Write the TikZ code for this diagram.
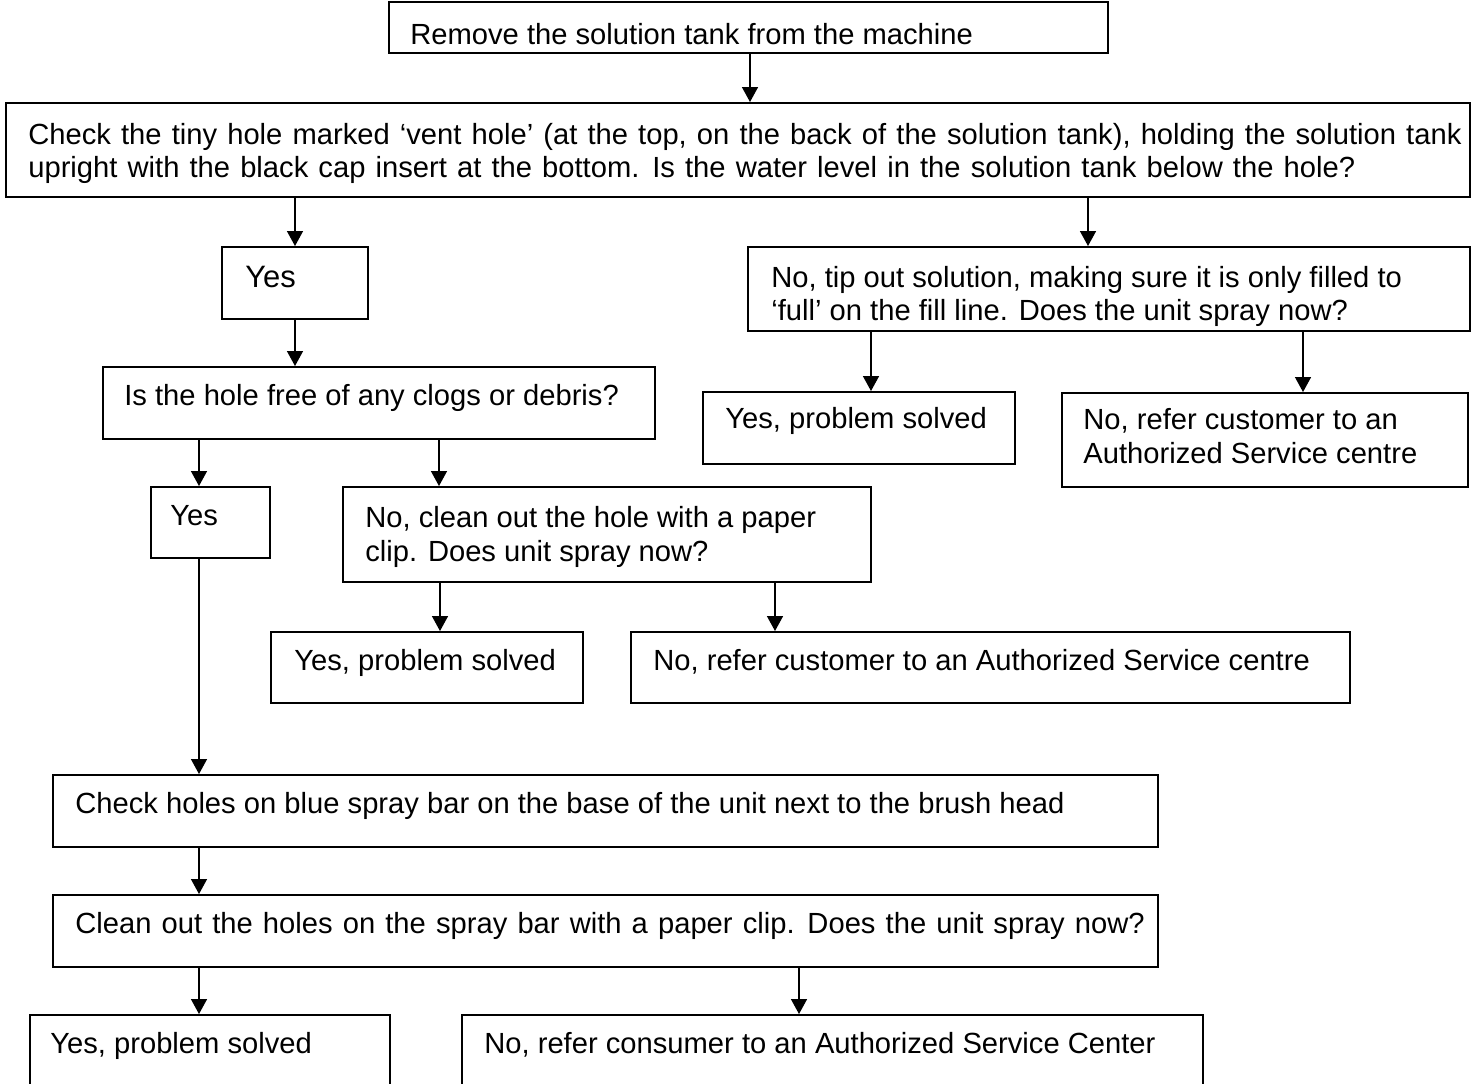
\documentclass[tikz,border=0pt]{standalone}
\usepackage{fontspec}
\setmainfont{Liberation Sans}
\usetikzlibrary{arrows.meta,fit}

\begin{document}
\begin{tikzpicture}[x=0.02cm, y=-0.02cm,
  box/.style={draw, line width=1.1pt, inner sep=0pt},
  txt/.style={anchor=base west, inner sep=0pt, align=left,
    font=\fontsize{16.6}{19.3}\selectfont},
  loose/.style={execute at begin node={\spaceskip=1.25\fontdimen2\font\relax}},
  arr/.style={line width=0.8pt, -{Triangle[width=0.32cm, length=0.3cm]}}]

\useasboundingbox (0,0) rectangle (1477,1084);

% boxes
\node[box, fit={(389,2) (1108,53)}] (remove) {};
\node[box, fit={(6,103) (1470,197)}] (check) {};
\node[box, fit={(222,247) (368,319)}] (yes1) {};
\node[box, fit={(748,247) (1470,331)}] (tip) {};
\node[box, fit={(103,367) (655,439)}] (free) {};
\node[box, fit={(703,392) (1015,464)}] (solved1) {};
\node[box, fit={(1062,393) (1468,487)}] (refer1) {};
\node[box, fit={(151,487) (270,558)}] (yes2) {};
\node[box, fit={(343,487) (871,582)}] (clip) {};
\node[box, fit={(271,632) (583,703)}] (solved2) {};
\node[box, fit={(631,632) (1350,703)}] (refer2) {};
\node[box, fit={(53,775) (1158,847)}] (bar) {};
\node[box, fit={(53,895) (1158,967)}] (cleanbar) {};
\node[box, fit={(30,1015) (390,1100)}] (solved3) {};
\node[box, fit={(462,1015) (1203,1100)}] (refer3) {};

% texts (two-line nodes sit on the baseline of their last line)
\node[txt] (tremove) at (410,45) {Remove the solution tank from the machine};
\node[txt, loose] (tcheck) at (28,178) {Check the tiny hole marked ‘vent hole’ (at the top, on the back of the solution tank), holding the solution tank\\upright with the black cap insert at the bottom. Is the water level in the solution tank below the hole?};
\node[txt, font=\fontsize{17.6}{20}\selectfont] (tyes1) at (245,288) {Yes};
\node[txt] (ttip) at (771,321) {No, tip out solution, making sure it is only filled to\\‘full’ on the fill line. Does the unit spray now?};
\node[txt] (tfree) at (124,405) {Is the hole free of any clogs or debris?};
\node[txt] (tsolved1) at (725,428) {Yes, problem solved};
\node[txt] (trefer1) at (1083,463) {No, refer customer to an\\Authorized Service centre};
\node[txt] (tyes2) at (170,525) {Yes};
\node[txt] (tclip) at (365,561) {No, clean out the hole with a paper\\clip. Does unit spray now?};
\node[txt] (tsolved2) at (294,670) {Yes, problem solved};
\node[txt] (trefer2) at (653,670) {No, refer customer to an Authorized Service centre};
\node[txt] (tbar) at (75,813) {Check holes on blue spray bar on the base of the unit next to the brush head};
\node[txt, loose] (tcleanbar) at (75,933) {Clean out the holes on the spray bar with a paper clip. Does the unit spray now?};
\node[txt] (tsolved3) at (50,1053) {Yes, problem solved};
\node[txt] (trefer3) at (484,1053) {No, refer consumer to an Authorized Service Center};

% arrows
\draw[arr] (remove.south -| 750,0) -- (check.north -| 750,0);
\draw[arr] (check.south -| 295,0) -- (yes1.north -| 295,0);
\draw[arr] (check.south -| 1088,0) -- (tip.north -| 1088,0);
\draw[arr] (yes1.south -| 295,0) -- (free.north -| 295,0);
\draw[arr] (tip.south -| 871,0) -- (solved1.north -| 871,0);
\draw[arr] (tip.south -| 1303,0) -- (refer1.north -| 1303,0);
\draw[arr] (free.south -| 199,0) -- (yes2.north -| 199,0);
\draw[arr] (free.south -| 439,0) -- (clip.north -| 439,0);
\draw[arr] (clip.south -| 440,0) -- (solved2.north -| 440,0);
\draw[arr] (clip.south -| 775,0) -- (refer2.north -| 775,0);
\draw[arr] (yes2.south -| 199,0) -- (bar.north -| 199,0);
\draw[arr] (bar.south -| 199,0) -- (cleanbar.north -| 199,0);
\draw[arr] (cleanbar.south -| 199,0) -- (solved3.north -| 199,0);
\draw[arr] (cleanbar.south -| 799,0) -- (refer3.north -| 799,0);

\end{tikzpicture}
\end{document}
